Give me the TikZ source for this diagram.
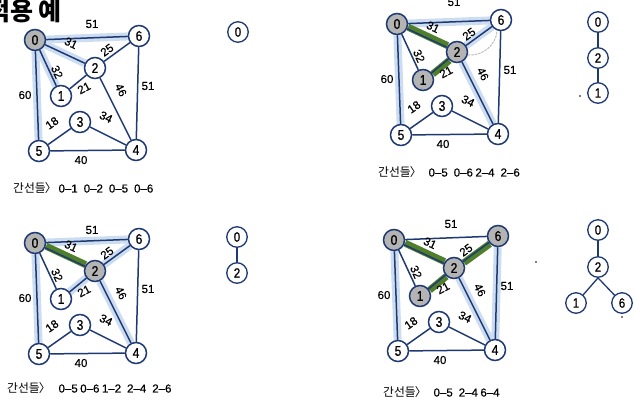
\documentclass[tikz,border=0pt]{standalone}
\usepackage{fontspec}
\setmainfont{Liberation Sans}
\newfontfamily\krfont{Noto Sans CJK KR}
\newfontfamily\narrowdigits[FakeStretch=0.86, FakeBold=0.8]{Liberation Sans}
\newfontfamily\labeldigits[FakeBold=0.6]{Liberation Sans}

\definecolor{navy}{HTML}{1F3A73}
\definecolor{lightblue}{HTML}{CCDDF1}
\definecolor{mstgreen}{HTML}{4F7F2A}
\definecolor{visitgray}{HTML}{B4B4B4}

\pgfdeclarelayer{bluelayer}
\pgfdeclarelayer{greenlayer}
\pgfdeclarelayer{edgelayer}
\pgfsetlayers{bluelayer,greenlayer,edgelayer,main}

\newcommand\edgelist[1]{{\krfont\fontsize{11.8}{11.8}\selectfont 간선들\hspace{-1pt}〉}\hspace{2pt}{\labeldigits\fontsize{11.5}{11.5}\selectfont #1}}
\newcommand\gapw{\hspace{6pt}}
\newcommand\gapn{\hspace{2.5pt}}

\tikzset{
  gnode/.style={circle, draw=navy, line width=1.5pt, minimum size=21pt, inner sep=0pt, fill=white,
    font=\narrowdigits\fontsize{14}{14}\selectfont},
  tnode/.style={circle, draw=navy, line width=1.3pt, minimum size=20.5pt, inner sep=0pt, fill=white,
    font=\narrowdigits\fontsize{13.5}{13.5}\selectfont},
  gedge/.style={draw=navy, line width=1.5pt},
  tedge/.style={draw=navy, line width=1.3pt},
  cand/.style={draw=lightblue, line width=8pt},
  chosen/.style={draw=mstgreen, line width=7pt},
  elabel/.style={font=\labeldigits\fontsize{11.5}{11.5}\selectfont, inner sep=0pt},
  klabel/.style={anchor=west, inner sep=0pt},
  dotmark/.style={circle, fill=black, inner sep=0pt, minimum size=1.6pt},
  cyclearc/.style={draw=gray!55, line width=0.9pt, dash pattern=on 2.5pt off 1pt},
}

% #1 prefix, #2 shift, #3 fill 0, #4 fill 1, #5 fill 2, #6 fill 6, #7 y of top label
\newcommand\mstgraph[7]{%
  \begin{scope}[shift={#2}]
    \node[gnode,fill=#3] (#1-0) at (35,40) {0};
    \node[gnode,fill=#6] (#1-6) at (139,36) {6};
    \node[gnode,fill=#5] (#1-2) at (95,68) {2};
    \node[gnode,fill=#4] (#1-1) at (61,96) {1};
    \node[gnode] (#1-3) at (80,122) {3};
    \node[gnode] (#1-5) at (39,151) {5};
    \node[gnode] (#1-4) at (136,150) {4};
    \begin{pgfonlayer}{edgelayer}
      \draw[gedge] (#1-0) -- (#1-6);
      \draw[gedge] (#1-0) -- (#1-2);
      \draw[gedge] (#1-0) -- (#1-1);
      \draw[gedge] (#1-0) -- (#1-5);
      \draw[gedge] (#1-2) -- (#1-6);
      \draw[gedge] (#1-2) -- (#1-1);
      \draw[gedge] (#1-2) -- (#1-4);
      \draw[gedge] (#1-6) -- (#1-4);
      \draw[gedge] (#1-5) -- (#1-3);
      \draw[gedge] (#1-3) -- (#1-4);
      \draw[gedge] (#1-5) -- (#1-4);
    \end{pgfonlayer}
    \node[elabel] (#1-w06) at (92,#7) {51};
    \node[elabel, rotate=-25] (#1-w02) at (71,43) {31};
    \node[elabel, rotate=36] (#1-w26) at (107,50) {25};
    \node[elabel, rotate=-66] (#1-w01) at (57,72) {32};
    \node[elabel, rotate=28] (#1-w12) at (84,88) {21};
    \node[elabel, rotate=-64] (#1-w24) at (121,90) {46};
    \node[elabel] (#1-w64) at (148,86) {51};
    \node[elabel] (#1-w05) at (25,95) {60};
    \node[elabel, rotate=35] (#1-w53) at (52,123) {18};
    \node[elabel, rotate=-26] (#1-w34) at (106,117) {34};
    \node[elabel] (#1-w54) at (81,160) {40};
  \end{scope}}

\begin{document}
\begin{tikzpicture}[x=1pt,y=-1pt]
  \useasboundingbox (0,0) rectangle (634,410);

  \node[font=\krfont\bfseries\fontsize{25}{25}\selectfont, anchor=base west, inner sep=0pt]
    (title) at (-13,20) {적용 예};

  % ---------- panel 1 ----------
  \mstgraph{p}{(0,0)}{visitgray}{white}{white}{white}{24}
  \begin{pgfonlayer}{bluelayer}
    \draw[cand] (p-0) -- (p-6);
    \draw[cand] (p-0) -- (p-2);
    \draw[cand] (p-0) -- (p-1);
    \draw[cand] (p-0) -- (p-5);
  \end{pgfonlayer}
  \node[klabel] (p-txt) at (13,188) {\edgelist{0–1\gapw 0–2\gapw 0–5\gapw 0–6}};
  \node[tnode] (p-t0) at (238,32) {0};

  % ---------- panel 2 ----------
  \mstgraph{q}{(0,203)}{visitgray}{white}{visitgray}{white}{27}
  \begin{pgfonlayer}{bluelayer}
    \draw[cand] (q-0) -- (q-6);
    \draw[cand] (q-0) -- (q-5);
    \draw[cand] (q-2) -- (q-6);
    \draw[cand] (q-2) -- (q-1);
    \draw[cand] (q-2) -- (q-4);
  \end{pgfonlayer}
  \begin{pgfonlayer}{greenlayer}
    \draw[chosen, transform canvas={shift={(0.8,-1.6)}}] (q-0) -- (q-2);
  \end{pgfonlayer}
  \node[klabel] (q-txt) at (7,388) {\edgelist{\hspace{6pt}0–5\gapn 0–6\gapn 1–2\gapw 2–4\gapw 2–6}};
  \node[tnode] (q-t0) at (237,237) {0};
  \node[tnode] (q-t2) at (237,273) {2};
  \draw[tedge] (q-t0) -- (q-t2);

  % ---------- panel 3 ----------
  \mstgraph{r}{(362,-16)}{visitgray}{visitgray}{visitgray}{white}{18}
  \begin{pgfonlayer}{bluelayer}
    \draw[cand] (r-0) -- (r-6);
    \draw[cand] (r-0) -- (r-5);
    \draw[cand] (r-2) -- (r-4);
    \draw[cand] (r-2) -- (r-6);
  \end{pgfonlayer}
  \begin{pgfonlayer}{greenlayer}
    \draw[chosen, transform canvas={shift={(0.8,-1.6)}}] (r-0) -- (r-2);
    \draw[chosen, transform canvas={shift={(1.0,1.2)}}] (r-1) -- (r-2);
  \end{pgfonlayer}
  \draw[cyclearc] (r-2.-15) to[bend right=45] (r-6.-110);
  \node[klabel] (r-txt) at (378,172) {\edgelist{\hspace{5pt}0–5\gapw 0–6\gapn 2–4\gapw 2–6}};
  \node[tnode] (r-t0) at (598,22) {0};
  \node[tnode] (r-t2) at (598,58) {2};
  \node[tnode] (r-t1) at (598,93) {1};
  \draw[tedge] (r-t0) -- (r-t2);
  \draw[tedge] (r-t2) -- (r-t1);
  \node[dotmark] (r-dot) at (580,96) {};

  % ---------- panel 4 ----------
  \mstgraph{s}{(359,200)}{visitgray}{visitgray}{visitgray}{visitgray}{24}
  \begin{pgfonlayer}{bluelayer}
    \draw[cand] (s-0) -- (s-5);
    \draw[cand] (s-2) -- (s-4);
    \draw[cand] (s-6) -- (s-4);
  \end{pgfonlayer}
  \begin{pgfonlayer}{greenlayer}
    \draw[chosen, transform canvas={shift={(0.8,-1.6)}}] (s-0) -- (s-2);
    \draw[chosen, transform canvas={shift={(1.0,1.2)}}] (s-1) -- (s-2);
    \draw[chosen, transform canvas={shift={(0.9,1.2)}}] (s-2) -- (s-6);
  \end{pgfonlayer}
  \node[klabel] (s-txt) at (383,392) {\edgelist{\hspace{5pt}0–5\gapw 2–4\gapn 6–4}};
  \node[dotmark] (s-dot1) at (536,262) {};
  \node[tnode] (s-t0) at (598,230) {0};
  \node[tnode] (s-t2) at (598,267) {2};
  \node[tnode] (s-t1) at (576,303) {1};
  \node[tnode] (s-t6) at (622,303) {6};
  \draw[tedge] (s-t0) -- (s-t2);
  \draw[tedge] (s-t2.south) -- (s-t1);
  \draw[tedge] (s-t2.south) -- (s-t6);
  \node[dotmark] (s-dot2) at (622,317) {};
\end{tikzpicture}
\end{document}
